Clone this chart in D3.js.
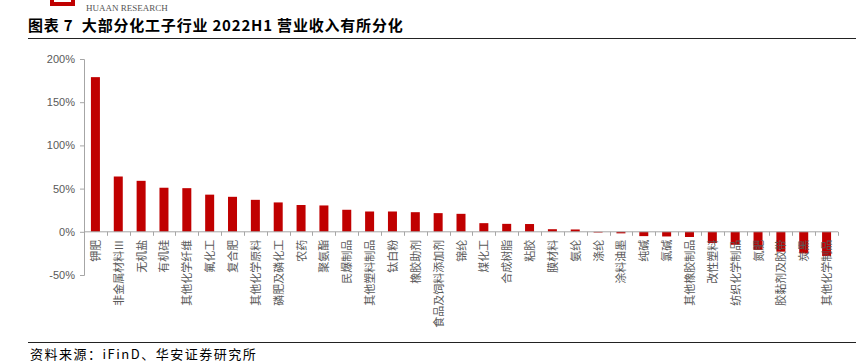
<!DOCTYPE html>
<html>
<head>
<meta charset="utf-8">
<script src="https://cdn.jsdelivr.net/npm/d3@7"></script>
<style>
  body { margin: 0; background: #fff; }
  svg { display: block; font-family: "Noto Sans CJK SC", "Liberation Sans", sans-serif; }
</style>
</head>
<body>
<svg id="chart" width="856" height="362"></svg>
<script>
// categories and 2022H1 revenue growth (%)
const categories = ["钾肥", "非金属材料Ⅲ", "无机盐", "有机硅", "其他化学纤维", "氟化工", "复合肥",
  "其他化学原料", "磷肥及磷化工", "农药", "聚氨酯", "民爆制品", "其他塑料制品", "钛白粉", "橡胶助剂",
  "食品及饲料添加剂", "锦纶", "煤化工", "合成树脂", "粘胶", "膜材料", "氨纶", "涤纶", "涂料油墨",
  "纯碱", "氯碱", "其他橡胶制品", "改性塑料", "纺织化学制品", "氮肥", "胶黏剂及胶带", "炭黑", "其他化学制品"];
const growth = [179, 64, 59, 51, 50.5, 43, 40.5, 37, 34, 31, 30.5, 25.5, 23.5, 23.5, 22.7,
  21.6, 20.8, 10, 9.2, 9, 3, 2.7, -0.8, -1.8, -5, -5.4, -6, -13, -15, -21, -23, -25, -28];
const yTicks = [-50, 0, 50, 100, 150, 200];

const svg = d3.select("#chart");
const plotLeft = 84, plotRight = 838, plotTop = 59, plotBottom = 275;

// header
svg.append("rect").attr("x", 50).attr("y", -4).attr("width", 25).attr("height", 10).attr("fill", "#c00000");
svg.append("rect").attr("x", 54).attr("y", -4).attr("width", 17).attr("height", 6).attr("fill", "#fff");
svg.append("text").attr("x", 86).attr("y", 11)
  .style("font-family", "'Liberation Serif', serif").style("font-size", "9px").attr("fill", "#555")
  .text("HUAAN RESEARCH");
svg.append("text").attr("x", 28).attr("y", 31)
  .style("font-size", "15px").style("font-weight", "bold").style("white-space", "pre")
  .style("letter-spacing", "0.8px").attr("fill", "#000")
  .text("图表 7  大部分化工子行业 2022H1 营业收入有所分化");
svg.append("line").attr("x1", 28).attr("x2", 856).attr("y1", 38.5).attr("y2", 38.5)
  .attr("stroke", "#222").attr("stroke-width", 1);

// footer
svg.append("line").attr("x1", 28).attr("x2", 856).attr("y1", 342.5).attr("y2", 342.5)
  .attr("stroke", "#222").attr("stroke-width", 1);
svg.append("text").attr("x", 30).attr("y", 359)
  .style("font-size", "13px").style("letter-spacing", "1.5px").attr("fill", "#000")
  .text("资料来源：iFinD、华安证券研究所");

const x = d3.scaleBand().domain(categories).range([plotLeft, plotRight]);
const y = d3.scaleLinear().domain([-50, 200]).range([plotBottom, plotTop]);

// y axis
const yAxis = svg.append("g").attr("transform", "translate(" + plotLeft + ",0)")
  .call(d3.axisLeft(y).tickValues(yTicks).tickSize(4).tickPadding(5).tickFormat(d => d + "%"));
yAxis.selectAll("line, path").attr("stroke", "#a6a6a6");
yAxis.selectAll("text").attr("fill", "#595959").style("font-family", "'Liberation Sans', Arial, sans-serif").style("font-size", "11px");

// bars
svg.selectAll("rect.bar")
  .data(categories)
  .enter()
  .append("rect")
  .attr("class", "bar")
  .attr("x", (d, i) => x(d) + (x.bandwidth() - 9) / 2)
  .attr("y", (d, i) => y(Math.max(0, growth[i])))
  .attr("width", 9)
  .attr("height", (d, i) => Math.abs(y(growth[i]) - y(0)))
  .attr("fill", "#c00000");

// x axis line with tick marks at band edges
const xg = svg.append("g").attr("transform", "translate(0," + y(0) + ")");
xg.append("line").attr("x1", plotLeft).attr("x2", plotRight).attr("stroke", "#a6a6a6");
xg.selectAll("line.tk")
  .data(categories.concat([null]))
  .enter()
  .append("line")
  .attr("class", "tk")
  .attr("x1", (d, i) => Math.round(plotLeft + i * x.step()) + 0.5)
  .attr("x2", (d, i) => Math.round(plotLeft + i * x.step()) + 0.5)
  .attr("y1", 0).attr("y2", 4)
  .attr("stroke", "#a6a6a6");

// category labels, rotated
svg.selectAll("text.cat")
  .data(categories)
  .enter()
  .append("text")
  .attr("class", "cat")
  .attr("transform", d => "translate(" + (x(d) + x.bandwidth() / 2 + 4.5) + "," + (y(0) + 8) + ") rotate(-90)")
  .attr("text-anchor", "end")
  .attr("fill", "#595959")
  .style("font-size", "11px")
  .text(d => d);
</script>
</body>
</html>
